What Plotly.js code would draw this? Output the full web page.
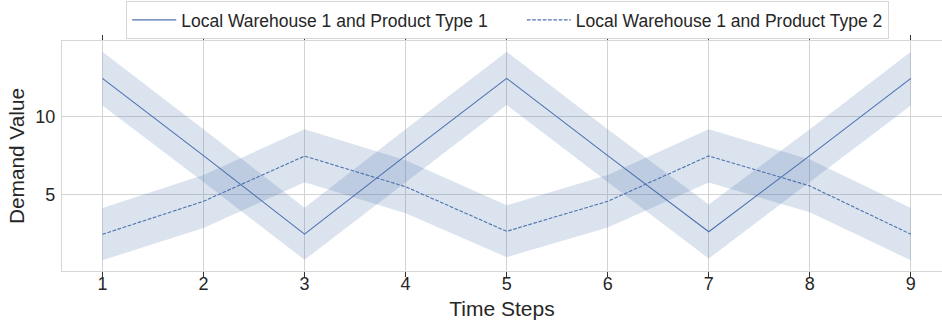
<!DOCTYPE html>
<html>
<head>
<meta charset="utf-8">
<script src="https://cdn.plot.ly/plotly-3.0.1.min.js"></script>
<style>html,body{margin:0;padding:0;background:#fff}#chart{width:942px;height:324px}</style>
</head>
<body>
<div id="chart"></div>
<script>
const steps = [1, 2, 3, 4, 5, 6, 7, 8, 9];
const nameA = "Local Warehouse 1 and Product Type 1";
const nameB = "Local Warehouse 1 and Product Type 2";
const meanA = [12.47, 7.5, 2.45, 7.5, 12.47, 7.5, 2.6, 7.5, 12.47];
const lowA  = [10.72, 5.8, 0.8, 5.8, 10.75, 5.8, 0.88, 5.8, 10.72];
const highA = [14.18, 9.2, 4.15, 9.2, 14.18, 9.2, 4.35, 9.2, 14.18];
const meanB = [2.44, 4.56, 7.47, 5.5, 2.63, 4.56, 7.48, 5.55, 2.44];
const lowB  = [0.77, 2.85, 5.78, 3.8, 0.97, 2.88, 5.77, 3.85, 0.77];
const highB = [4.13, 6.25, 9.2, 7.2, 4.3, 6.25, 9.2, 7.25, 4.13];

const blue = "#4c72b0";
const band = "rgba(76,114,176,0.2)";
const font = "Liberation Sans, Arial, sans-serif";

function bandTraces(lo, hi) {
  return [
    {x: steps, y: lo, mode: "lines", line: {width: 0, color: band}, showlegend: false, hoverinfo: "skip"},
    {x: steps, y: hi, mode: "lines", line: {width: 0, color: band}, fill: "tonexty", fillcolor: band, showlegend: false, hoverinfo: "skip"}
  ];
}

const data = [
  ...bandTraces(lowA, highA),
  ...bandTraces(lowB, highB),
  {x: steps, y: meanA, mode: "lines", name: nameA + "\u00a0".repeat(6), line: {color: blue, width: 1.1}},
  {x: steps, y: meanB, mode: "lines", name: nameB, line: {color: blue, width: 1.1, dash: "3.7px,1.6px"}}
];

const layout = {
  width: 942, height: 324,
  margin: {l: 62, r: 0, t: 41, b: 53, pad: 0},
  paper_bgcolor: "#ffffff", plot_bgcolor: "#ffffff",
  font: {family: font, color: "#262626", size: 17.5},
  showlegend: true,
  legend: {
    orientation: "h", traceorder: "normal", xref: "paper", yref: "paper",
    x: 0.5065, xanchor: "center", y: 1.174, yanchor: "top",
    itemwidth: 44,
    bgcolor: "#ffffff", bordercolor: "#d6d6d6", borderwidth: 1,
    font: {family: font, size: 17.5, color: "#262626"}
  },
  xaxis: {
    range: [0.6, 9.308], tickvals: steps, ticktext: steps.map(String),
    showgrid: true, gridcolor: "#d3d3d3", gridwidth: 1,
    zeroline: false, showline: true, linecolor: "#d6d6d6", linewidth: 1.2, mirror: "ticks",
    ticks: "outside", ticklen: 5, tickwidth: 1, tickcolor: "#333333",
    ticklabelstandoff: -9,
    tickfont: {family: font, size: 18, color: "#262626"},
    title: {text: "Time Steps", font: {family: font, size: 21, color: "#262626"}, standoff: 8}
  },
  yaxis: {
    range: [0.08, 14.87], tickvals: [5, 10], ticktext: ["5", "10"],
    showgrid: true, gridcolor: "#d3d3d3", gridwidth: 1,
    zeroline: false, showline: true, linecolor: "#d6d6d6", linewidth: 1.2, mirror: true,
    ticks: "", ticklen: 0, ticklabelstandoff: 2,
    tickfont: {family: font, size: 18, color: "#262626"},
    title: {text: "Demand Value", font: {family: font, size: 20.8, color: "#262626"}, standoff: 4}
  }
};

Plotly.newPlot("chart", data, layout, {displayModeBar: false, staticPlot: true});
</script>
</body>
</html>
